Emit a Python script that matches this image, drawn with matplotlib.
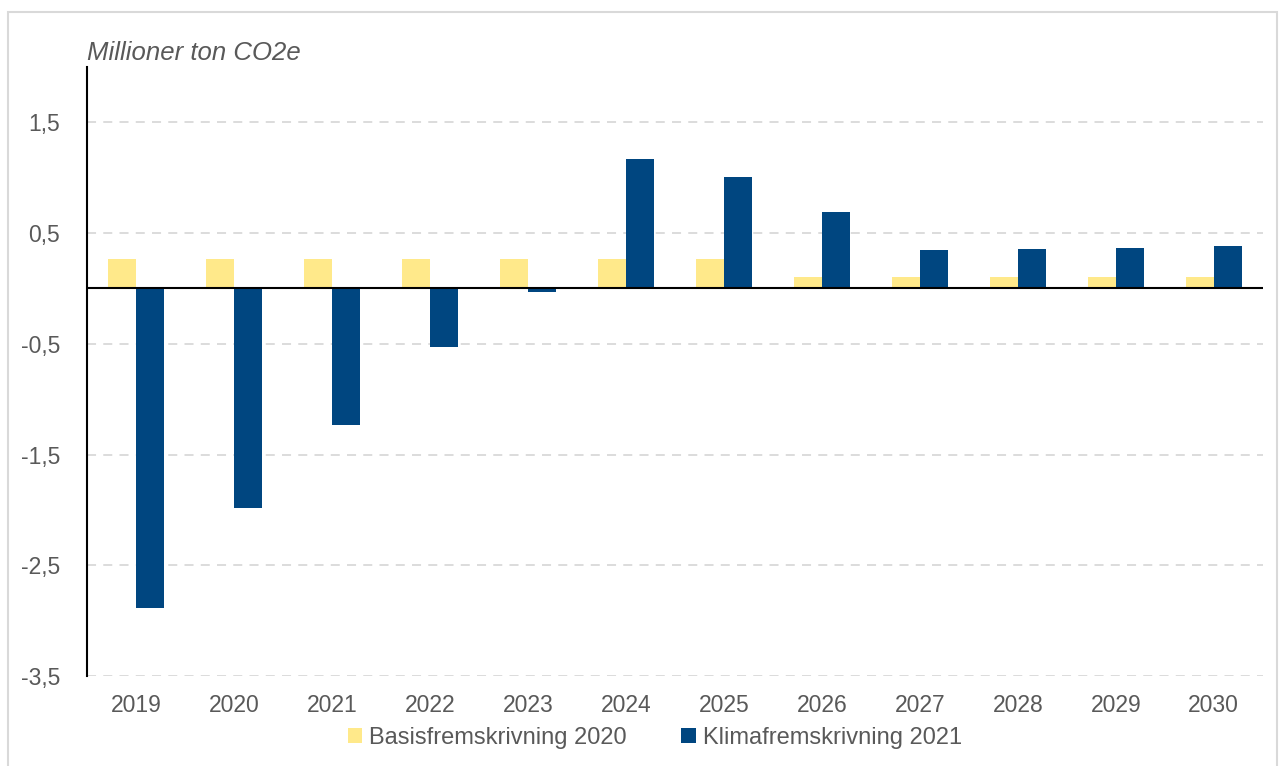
import numpy as np
import matplotlib.pyplot as plt
from matplotlib.patches import Rectangle
from matplotlib.ticker import FuncFormatter

plt.rcParams['font.family'] = ['Liberation Sans', 'DejaVu Sans']

years = ['2019', '2020', '2021', '2022', '2023', '2024',
         '2025', '2026', '2027', '2028', '2029', '2030']
basis2020 = [0.27, 0.27, 0.27, 0.27, 0.27, 0.27, 0.27, 0.10, 0.10, 0.10, 0.10, 0.10]
klima2021 = [-2.89, -1.98, -1.23, -0.53, -0.03, 1.17, 1.01, 0.69, 0.345, 0.36, 0.37, 0.385]

yellow = '#FFE98A'
blue = '#004680'
grey = '#595959'

fig = plt.figure(figsize=(12.82, 7.66), dpi=100)
ax = fig.add_axes([0.0679, 0.1175, 0.9171, 0.795])

# light frame around the chart
fig.patches.append(Rectangle((8 / 1282, -0.01), 1269 / 1282, 1 - 12 / 766 + 0.01,
                             transform=fig.transFigure, fill=False,
                             edgecolor='#D9D9D9', linewidth=1.5))

x = np.arange(len(years))
w = 0.286
ax.bar(x - w / 2, basis2020, w, color=yellow, label='Basisfremskrivning 2020', zorder=3)
ax.bar(x + w / 2, klima2021, w, color=blue, label='Klimafremskrivning 2021', zorder=3)

ax.set_xlim(-0.5, len(years) - 0.5)
ax.set_ylim(-3.5, 2.0)
yt = [1.5, 0.5, -0.5, -1.5, -2.5, -3.5]
ax.set_yticks(yt)
ax.yaxis.set_major_formatter(FuncFormatter(lambda v, p: ('%.1f' % v).replace('.', ',')))
ax.grid(axis='y', color='#D9D9D9', linestyle=(0, (5, 4)), linewidth=1.3, zorder=0)
ax.axhline(0, color='black', linewidth=1.5, zorder=4)

ax.set_xticks(x)
ax.set_xticklabels(years)
ax.tick_params(axis='both', length=0, labelsize=16.5, colors=grey)
ax.tick_params(axis='y', pad=19.5)
ax.tick_params(axis='x', pad=13)

for s in ['top', 'right', 'bottom']:
    ax.spines[s].set_visible(False)
ax.spines['left'].set_color('black')
ax.spines['left'].set_linewidth(1.5)

fig.text(87 / 1282, 1 - 53 / 766, 'Millioner ton CO2e', style='italic',
         fontsize=18.5, color=grey, va='center', ha='left')

fig.legend(loc='center', bbox_to_anchor=(655 / 1282, 1 - 738 / 766), ncol=2,
           frameon=False, fontsize=17, labelcolor=grey, handlelength=0.6,
           handleheight=0.6, handletextpad=0.3, columnspacing=2.3)

fig.savefig('out.png', dpi=100)
